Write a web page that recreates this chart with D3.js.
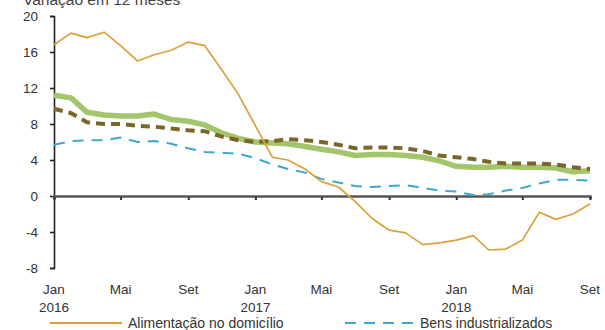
<!DOCTYPE html>
<html>
<head>
<meta charset="utf-8">
<script src="https://cdn.jsdelivr.net/npm/d3@7"></script>
<style>
  html, body { margin: 0; padding: 0; background: #ffffff; }
  svg { display: block; font-family: "Liberation Sans", Arial, sans-serif; }
</style>
</head>
<body>
<svg id="chart" width="605" height="330"></svg>
<script>
// Monthly 12-month variation, Jan 2016 – Sep 2018
const startMonth = new Date(2016, 0, 1);
const endMonth = new Date(2018, 8, 1);

const alimentacao = [16.8, 18.1, 17.6, 18.2, 16.7, 15.0, 15.7, 16.2, 17.1, 16.7, 14.0, 11.3,
  7.8, 4.3, 4.0, 3.0, 1.6, 1.0, -0.6, -2.5, -3.8, -4.1, -5.4, -5.2,
  -4.9, -4.4, -6.0, -5.9, -4.9, -1.8, -2.6, -2.0, -0.9];

const industrializados = [5.7, 6.1, 6.2, 6.2, 6.5, 6.0, 6.1, 5.8, 5.3, 4.9, 4.8, 4.7,
  4.2, 3.5, 3.0, 2.6, 1.9, 1.5, 1.1, 1.0, 1.1, 1.2, 0.9, 0.6,
  0.5, 0.1, 0.2, 0.6, 0.9, 1.4, 1.8, 1.8, 1.7];

const serieVerde = [11.2, 10.9, 9.3, 9.0, 8.9, 8.9, 9.1, 8.5, 8.3, 7.9, 7.0, 6.4,
  6.0, 5.9, 5.8, 5.5, 5.2, 4.9, 4.5, 4.6, 4.6, 4.5, 4.3, 3.9,
  3.3, 3.2, 3.2, 3.3, 3.2, 3.2, 3.1, 2.7, 2.8];

const serieOliva = [9.7, 9.2, 8.2, 8.0, 8.0, 7.8, 7.7, 7.5, 7.3, 7.2, 6.6, 6.2,
  6.0, 6.1, 6.3, 6.2, 6.0, 5.7, 5.3, 5.4, 5.4, 5.3, 5.0, 4.5,
  4.3, 4.1, 3.8, 3.6, 3.6, 3.6, 3.5, 3.2, 3.0];

const yTicks = [-8, -4, 0, 4, 8, 12, 16, 20];
const xTickMonths = ["Jan", "Mai", "Set", "Jan", "Mai", "Set", "Jan", "Mai", "Set"];
const xTickYears = ["2016", "", "", "2017", "", "", "2018", "", ""];

const legendLabels = ["Alimentação no domicílio", "Bens industrializados"];
const titleText = "Variação em 12 meses";

const months = d3.timeMonth.range(startMonth, d3.timeMonth.offset(endMonth, 1));
const tickDates = d3.timeMonth.every(4).range(startMonth, d3.timeMonth.offset(endMonth, 1));

const svg = d3.select("#chart");

const x = d3.scaleTime().domain([startMonth, endMonth]).range([54, 590]);
const y = d3.scaleLinear().domain([-8, 20]).range([268, 16]);

// title (sits at the very top edge)
svg.append("text")
  .attr("x", 23).attr("y", 5)
  .attr("font-size", 15.5).attr("fill", "#444")
  .text(titleText);

// left axis
const yAxis = svg.append("g")
  .attr("transform", `translate(${x(startMonth)},0)`)
  .call(d3.axisLeft(y).tickValues(yTicks).tickSize(4).tickPadding(12).tickFormat(d => String(d)));
yAxis.select(".domain").attr("stroke", "#222").attr("stroke-width", 1.6);
yAxis.selectAll(".tick line").attr("stroke", "#222").attr("stroke-width", 1.6);
yAxis.selectAll(".tick text")
  .attr("font-size", 13.5).attr("fill", "#333")
  .attr("font-family", "Liberation Sans, Arial, sans-serif");

// zero line with month ticks
const xAxis = svg.append("g")
  .attr("transform", `translate(0,${y(0)})`)
  .call(d3.axisBottom(x).tickValues(tickDates).tickSize(3).tickFormat(""));
xAxis.select(".domain").attr("stroke", "#555").attr("stroke-width", 2.6);
xAxis.selectAll(".tick line").attr("stroke", "#333").attr("stroke-width", 2).attr("y1", 1).attr("y2", 4);

// month / year labels along the bottom
const labelG = svg.append("g")
  .attr("font-size", 13.5).attr("fill", "#333").attr("text-anchor", "middle");
tickDates.forEach((d, i) => {
  labelG.append("text").attr("x", x(d)).attr("y", 294).text(xTickMonths[i]);
  if (xTickYears[i]) labelG.append("text").attr("x", x(d)).attr("y", 312).text(xTickYears[i]);
});

const line = d3.line()
  .x((d, i) => x(months[i]))
  .y(d => y(d));

svg.append("path").datum(serieVerde)
  .attr("fill", "none").attr("stroke", "#a3c56c").attr("stroke-width", 5.5)
  .attr("stroke-linejoin", "round").attr("d", line);

svg.append("path").datum(serieOliva)
  .attr("fill", "none").attr("stroke", "#7a6629").attr("stroke-width", 4)
  .attr("stroke-dasharray", "9,6").attr("d", line);

svg.append("path").datum(industrializados)
  .attr("fill", "none").attr("stroke", "#3ea7cf").attr("stroke-width", 2)
  .attr("stroke-dasharray", "11,8").attr("d", line);

svg.append("path").datum(alimentacao)
  .attr("fill", "none").attr("stroke", "#dda13c").attr("stroke-width", 1.7)
  .attr("stroke-linejoin", "round").attr("d", line);

// legend
const legend = svg.append("g").attr("font-size", 14).attr("fill", "#333");
legend.append("line").attr("x1", 50).attr("x2", 122).attr("y1", 323).attr("y2", 323)
  .attr("stroke", "#dda13c").attr("stroke-width", 2.2);
legend.append("text").attr("x", 128).attr("y", 328).text(legendLabels[0]);
legend.append("line").attr("x1", 345).attr("x2", 415).attr("y1", 323).attr("y2", 323)
  .attr("stroke", "#3ea7cf").attr("stroke-width", 2).attr("stroke-dasharray", "11,8");
legend.append("text").attr("x", 420).attr("y", 328).text(legendLabels[1]);
</script>
</body>
</html>
